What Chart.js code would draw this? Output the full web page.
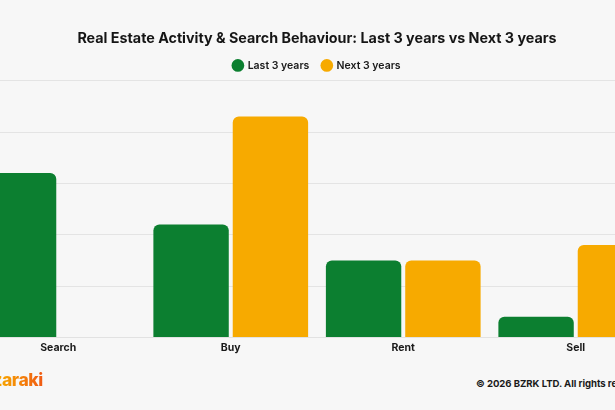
<!DOCTYPE html>
<html>
<head>
<meta charset="utf-8">
<script src="https://cdn.jsdelivr.net/npm/chart.js@4.4.1/dist/chart.umd.min.js"></script>
<style>
  html, body { margin: 0; padding: 0; background: #f7f7f7; overflow: hidden; width: 615px; height: 410px; }
  #wrap { position: absolute; left: -28px; top: 0; width: 690px; height: 410px; }
  #chartBox { position: absolute; left: 0; top: 0; width: 690px; height: 358px; }
  #logo { position: absolute; left: -1px; top: 369px; font-family: Inter, "Noto Sans", sans-serif; font-weight: 800; font-size: 17.5px; letter-spacing: -0.4px;
          background: linear-gradient(90deg, #fbb400 0%, #f7a000 45%, #f05a14 100%); -webkit-background-clip: text; background-clip: text; color: transparent; }
  #copy { position: absolute; left: 504px; top: 378px; white-space: nowrap; font-family: Inter, "Noto Sans", sans-serif; font-weight: 700; font-size: 9.6px; letter-spacing: -0.05px; color: #1a1a1a; }
</style>
</head>
<body>
<div id="wrap">
  <div id="chartBox"><canvas id="c"></canvas></div>
  <div id="logo">Bazaraki</div>
  <div id="copy">© 2026 BZRK LTD. All rights reserved.</div>
</div>
<script>
const categories = ["Search", "Buy", "Rent", "Sell"];
const lastValues = [64, 44, 30, 8];
const nextValues = [0, 86, 30, 36];
const seriesNames = ["Last 3 years", "Next 3 years"];
const titleText = "Real Estate Activity & Search Behaviour: Last 3 years vs Next 3 years";

const FONT = "Inter, 'Noto Sans', sans-serif";
new Chart(document.getElementById('c'), {
  type: 'bar',
  data: {
    labels: categories,
    datasets: [
      { label: seriesNames[0], data: lastValues, backgroundColor: '#0c7f30', borderRadius: 6, borderSkipped: 'start', barPercentage: 0.95, categoryPercentage: 0.92 },
      { label: seriesNames[1], data: nextValues, backgroundColor: '#f7aa00', borderRadius: 6, borderSkipped: 'start', barPercentage: 0.95, categoryPercentage: 0.92 }
    ]
  },
  options: {
    responsive: true,
    maintainAspectRatio: false,
    animation: false,
    layout: { padding: 0 },
    plugins: {
      title: { display: true, text: titleText, color: '#151515', font: { family: FONT, size: 14.3, weight: 'bold' }, padding: { top: 30, bottom: 0 } },
      legend: { display: true, labels: { usePointStyle: true, pointStyle: 'circle', boxWidth: 9, boxHeight: 9, color: '#1a1a1a', padding: 13, font: { family: FONT, size: 10.5, weight: '600' } } },
      tooltip: { enabled: false }
    },
    scales: {
      x: {
        grid: { display: false, drawTicks: false },
        border: { display: true, color: '#e2e2e2' },
        ticks: { color: '#1a1a1a', font: { family: FONT, size: 10.5, weight: 'bold' }, padding: 4 }
      },
      y: {
        min: 0, max: 100,
        ticks: { display: false, stepSize: 20 },
        grid: { color: '#e4e4e4', drawTicks: false },
        border: { display: false }
      }
    }
  }
});
</script>
</body>
</html>
